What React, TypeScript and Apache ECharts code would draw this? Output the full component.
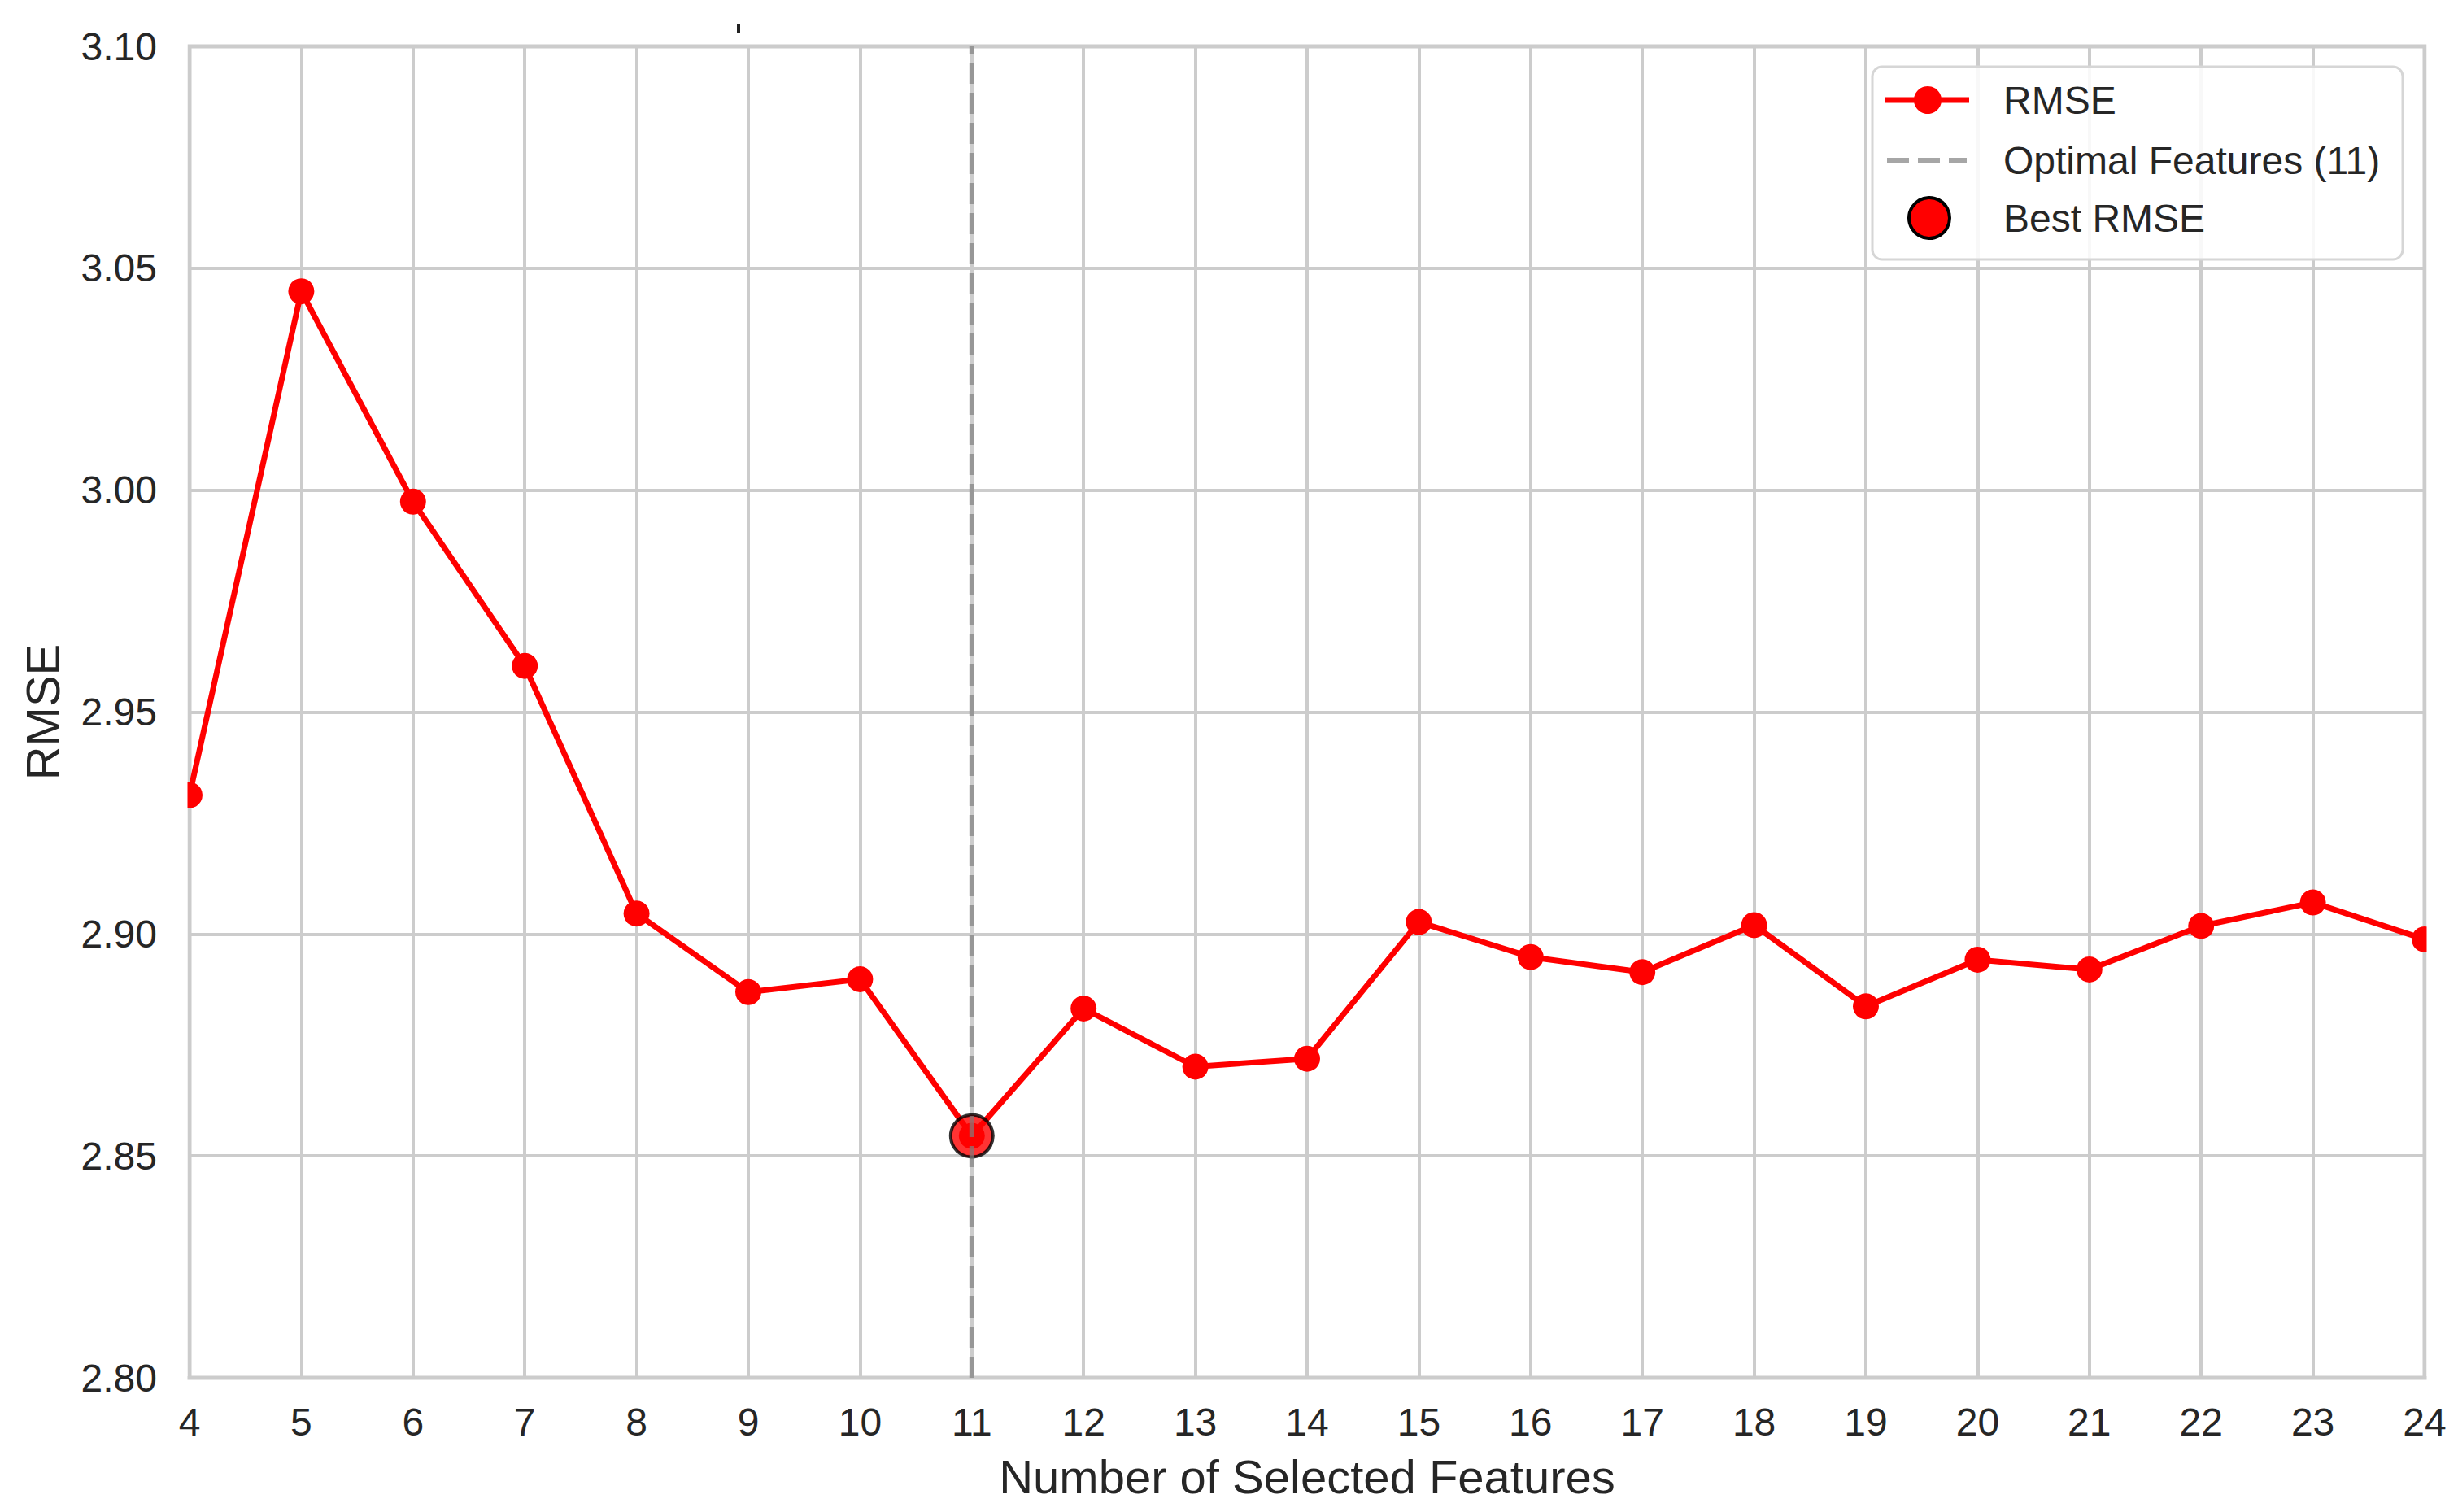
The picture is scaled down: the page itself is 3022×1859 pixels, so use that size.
import React, { useEffect, useRef } from "react";
import * as echarts from "echarts";

const featureCounts = [4, 5, 6, 7, 8, 9, 10, 11, 12, 13, 14, 15, 16, 17, 18, 19, 20, 21, 22, 23, 24];
const rmseValues = [
  2.9313, 3.0448, 2.9974, 2.9604, 2.9046, 2.8869, 2.8898, 2.8545, 2.8832, 2.8701, 2.8719,
  2.9027, 2.8948, 2.8914, 2.902, 2.8837, 2.8942, 2.892, 2.9018, 2.9071, 2.8988,
];
const bestFeature = 11;
const bestRmse = 2.8545;
const yMin = 2.8;
const yMax = 3.1;
const legendLabels = ["RMSE", "Optimal Features (11)", "Best RMSE"];

const FONT = "'Liberation Sans', Arial, Helvetica, sans-serif";
const TEXT = "#262626";

export default function App() {
  const ref = useRef<HTMLDivElement>(null);

  useEffect(() => {
    if (!ref.current) return;
    const chart = echarts.init(ref.current, null, { renderer: "svg", width: 3022, height: 1859 });

    const lineData = featureCounts.map((x, i) => [x, rmseValues[i]]);

    const legendX = 2302;
    const legendY = 82;
    const rows = [123, 197, 268];
    const textX = 2463;

    chart.setOption({
      animation: false,
      backgroundColor: "#ffffff",
      textStyle: { fontFamily: FONT },
      grid: {
        left: 233,
        top: 57,
        right: 41,
        bottom: 165,
        containLabel: false,
        outerBoundsMode: "none",
        show: true,
        borderColor: "#cccccc",
        borderWidth: 5,
        backgroundColor: "transparent",
      },
      xAxis: {
        type: "value",
        min: 4,
        max: 24,
        interval: 1,
        name: "Number of Selected Features",
        nameLocation: "middle",
        nameGap: 92,
        nameTextStyle: { fontSize: 58, color: TEXT, fontFamily: FONT },
        axisLine: { show: false },
        axisTick: { show: false },
        axisLabel: { fontSize: 48, color: TEXT, margin: 30, fontFamily: FONT },
        splitLine: { show: true, lineStyle: { color: "#cccccc", width: 4 } },
      },
      yAxis: {
        type: "value",
        min: yMin,
        max: yMax,
        interval: 0.05,
        name: "RMSE",
        nameLocation: "middle",
        nameGap: 152,
        nameTextStyle: { fontSize: 58, color: TEXT, fontFamily: FONT },
        axisLine: { show: false },
        axisTick: { show: false },
        axisLabel: {
          fontSize: 48,
          color: TEXT,
          margin: 40,
          fontFamily: FONT,
          formatter: (v: number) => v.toFixed(2),
        },
        splitLine: { show: true, lineStyle: { color: "#cccccc", width: 4 } },
      },
      series: [
        {
          name: legendLabels[0],
          type: "line",
          data: lineData,
          clip: false,
          symbol: "circle",
          symbolSize: 32,
          itemStyle: { color: "#ff0000" },
          lineStyle: { color: "#ff0000", width: 7 },
          z: 3,
        },
        {
          name: legendLabels[2],
          type: "scatter",
          data: [[bestFeature, bestRmse]],
          symbol: "circle",
          symbolSize: 52,
          itemStyle: { color: "#ff0000", borderColor: "#000000", borderWidth: 4 },
          z: 4,
        },
        {
          name: legendLabels[1],
          type: "line",
          data: [
            [bestFeature, yMin],
            [bestFeature, yMax],
          ],
          symbol: "none",
          lineStyle: { color: "#808080", opacity: 0.7, width: 6, type: [26, 11] },
          z: 5,
        },
      ],
      graphic: [
        // mask the half of the edge markers that fall outside the plot
        { type: "rect", shape: { x: 200, y: 40, width: 30.5, height: 1652 }, style: { fill: "#ffffff" }, z: 100 },
        { type: "rect", shape: { x: 2983.5, y: 40, width: 38.5, height: 1652 }, style: { fill: "#ffffff" }, z: 100 },
        // small stray mark above the plot
        { type: "rect", shape: { x: 906, y: 30, width: 4, height: 11 }, style: { fill: "#222222" }, z: 100 },
        // legend box
        {
          type: "rect",
          shape: { x: legendX, y: legendY, width: 652, height: 237, r: 12 },
          style: { fill: "rgba(255,255,255,0.85)", stroke: "#d6d6d6", lineWidth: 3 },
          z: 110,
        },
        {
          type: "line",
          shape: { x1: 2318, y1: rows[0], x2: 2421, y2: rows[0] },
          style: { stroke: "#ff0000", lineWidth: 7 },
          z: 111,
        },
        {
          type: "circle",
          shape: { cx: 2370, cy: rows[0], r: 17 },
          style: { fill: "#ff0000" },
          z: 112,
        },
        {
          type: "line",
          shape: { x1: 2320, y1: rows[1], x2: 2418, y2: rows[1] },
          style: { stroke: "rgba(128,128,128,0.7)", lineWidth: 6, lineDash: [27, 11] },
          z: 111,
        },
        {
          type: "circle",
          shape: { cx: 2372, cy: rows[2], r: 25 },
          style: { fill: "#ff0000", stroke: "#000000", lineWidth: 4 },
          z: 112,
        },
        ...legendLabels.map((t, i) => ({
          type: "text",
          x: textX,
          y: rows[i],
          style: {
            text: t,
            fill: TEXT,
            font: `48px ${FONT}`,
            textVerticalAlign: "middle",
            verticalAlign: "middle",
          },
          z: 112,
        })),
      ],
    });

    return () => chart.dispose();
  }, []);

  return (
    <div
      ref={ref}
      style={{ position: "fixed", left: 0, top: 0, width: 3022, height: 1859, background: "#ffffff" }}
    />
  );
}
